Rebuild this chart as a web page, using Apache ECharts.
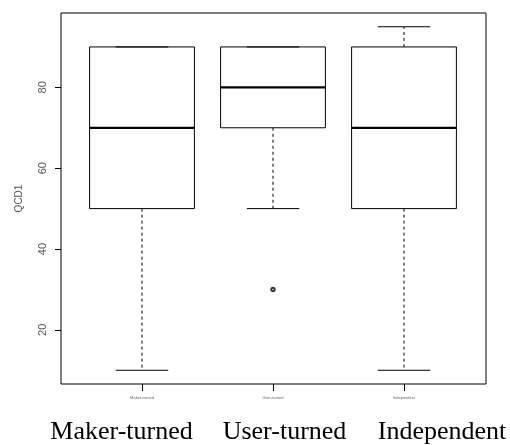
<!DOCTYPE html>
<html>
<head>
<meta charset="utf-8">
<script src="https://cdn.jsdelivr.net/npm/echarts@6/dist/echarts.min.js"></script>
<style>html,body{margin:0;padding:0;background:#fff;}#c{width:510px;height:445px;}</style>
</head>
<body>
<div id="c"></div>
<script>
const categories = ['Maker-turned', 'User-turned', 'Independent'];
const mins    = [10, 50, 10];
const q1s     = [50, 70, 50];
const medians = [70, 80, 70];
const q3s     = [90, 90, 90];
const maxs    = [90, 90, 95];
const outliers = [[1, 30]];
const yTicks = [20, 40, 60, 80];
const bottomLabels = ['Maker-turned', 'User-turned', 'Independent'];

const boxData = categories.map((c, i) => [i, mins[i], q1s[i], medians[i], q3s[i], maxs[i]]);

function renderBox(params, api) {
  const i = api.value(0);
  const bw = api.size([1, 0])[0];
  const cx = api.coord([i, 0])[0];
  const y = v => api.coord([i, v])[1];
  const yMin = y(api.value(1)), yQ1 = y(api.value(2)), yMed = y(api.value(3)), yQ3 = y(api.value(4)), yMax = y(api.value(5));
  const hb = bw * 0.4, hc = bw * 0.2;
  const solid = {stroke: '#000', lineWidth: 1, fill: null};
  const dashed = {stroke: '#000', lineWidth: 1, lineDash: [3, 3]};
  return {
    type: 'group',
    children: [
      {type: 'line', shape: {x1: cx, y1: yQ3, x2: cx, y2: yMax}, style: dashed},
      {type: 'line', shape: {x1: cx, y1: yQ1, x2: cx, y2: yMin}, style: dashed},
      {type: 'rect', shape: {x: cx - hb, y: yQ3, width: 2 * hb, height: yQ1 - yQ3}, style: {stroke: '#000', lineWidth: 1, fill: '#fff'}},
      {type: 'line', shape: {x1: cx - hc, y1: yMax, x2: cx + hc, y2: yMax}, style: solid},
      {type: 'line', shape: {x1: cx - hc, y1: yMin, x2: cx + hc, y2: yMin}, style: solid},
      {type: 'line', shape: {x1: cx - hb, y1: yMed, x2: cx + hb, y2: yMed}, style: {stroke: '#000', lineWidth: 2.2}}
    ]
  };
}

const chart = echarts.init(document.getElementById('c'), null, {renderer: 'canvas'});
chart.setOption({
  animation: false,
  backgroundColor: '#fff',
  grid: [
    {left: 76.5, width: 393, top: 13, height: 371, show: false},
    {left: 61, width: 425, top: 13, height: 371, show: true, borderColor: '#000', borderWidth: 1, backgroundColor: 'transparent'}
  ],
  xAxis: [
    {
      type: 'category', gridIndex: 0, data: categories, boundaryGap: true,
      axisLine: {show: false},
      axisTick: {show: true, alignWithLabel: true, length: 7, lineStyle: {color: '#000'}},
      axisLabel: {show: true, fontSize: 4, color: '#666', margin: 12, fontFamily: 'Liberation Sans'}
    },
    {type: 'value', gridIndex: 1, show: false, min: 0, max: 1}
  ],
  yAxis: [
    {
      type: 'value', gridIndex: 0, min: 6.6, max: 98.4, offset: 15.5,
      splitLine: {show: false},
      axisLine: {show: false},
      axisTick: {show: true, length: 6, lineStyle: {color: '#000'}, customValues: yTicks},
      axisLabel: {rotate: 90, fontSize: 11, color: '#555', margin: 13, fontFamily: 'Liberation Sans', customValues: yTicks},
      name: 'QCD1', nameLocation: 'middle', nameRotate: 90, nameGap: 37,
      nameTextStyle: {fontSize: 10, color: '#555', fontFamily: 'Liberation Sans'}
    },
    {type: 'value', gridIndex: 1, show: false, min: 0, max: 1}
  ],
  graphic: bottomLabels.map((t, i) => ({
    type: 'text',
    style: {
      text: t, x: [121.5, 284.5, 442][i], y: 432,
      textAlign: 'center', textVerticalAlign: 'middle',
      font: '26px "Liberation Serif", "Times New Roman", serif', fill: '#000'
    }
  })),
  series: [
    {
      type: 'custom', xAxisIndex: 0, yAxisIndex: 0,
      renderItem: renderBox,
      encode: {x: 0, y: [1, 2, 3, 4, 5]},
      data: boxData
    },
    {
      type: 'scatter', xAxisIndex: 0, yAxisIndex: 0,
      symbol: 'emptyCircle', symbolSize: 3.5,
      itemStyle: {color: '#000', borderColor: '#000', borderWidth: 1},
      data: outliers
    }
  ]
});
</script>
</body>
</html>
